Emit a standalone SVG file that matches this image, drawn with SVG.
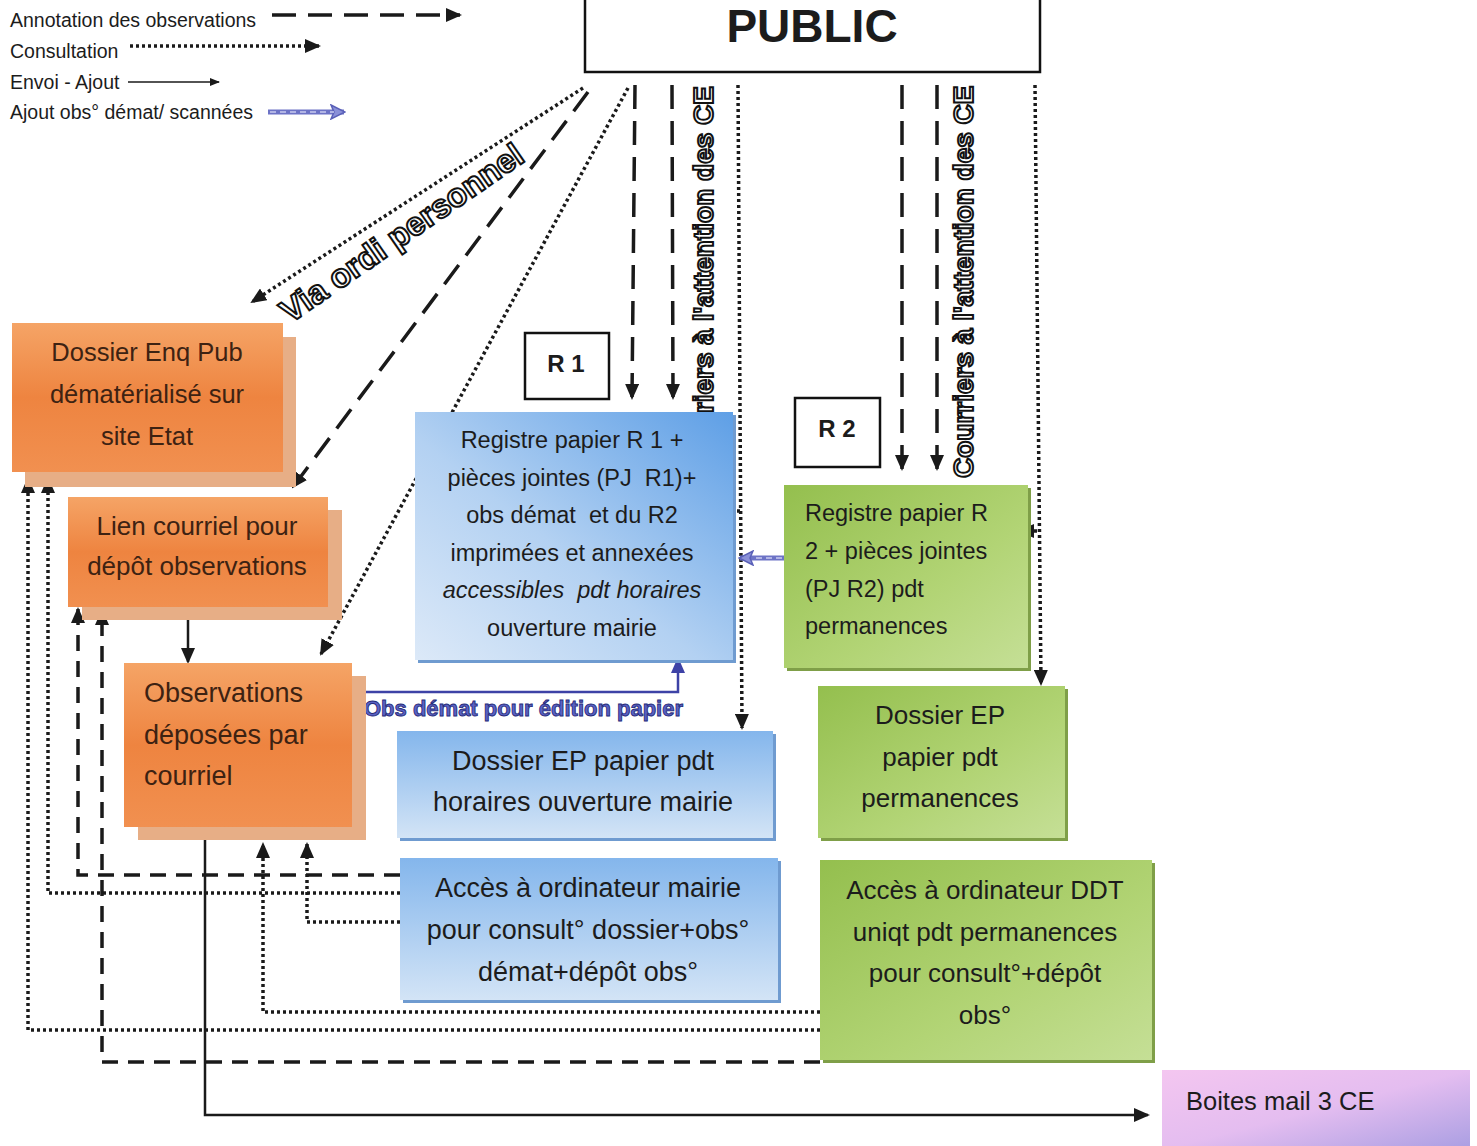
<svg xmlns="http://www.w3.org/2000/svg" width="1477" height="1146" viewBox="0 0 1477 1146">
<defs>
<linearGradient id="gOr" x1="0" y1="0" x2="0" y2="1"><stop offset="0" stop-color="#f5a466"/><stop offset="0.5" stop-color="#ee8440"/><stop offset="1" stop-color="#f19050"/></linearGradient>
<linearGradient id="gBl" x1="1" y1="0" x2="0" y2="1"><stop offset="0" stop-color="#5e9fe6"/><stop offset="0.55" stop-color="#b3d1f2"/><stop offset="1" stop-color="#dce9f8"/></linearGradient>
<linearGradient id="gBl2" x1="0" y1="0" x2="0" y2="1"><stop offset="0" stop-color="#84b6ec"/><stop offset="1" stop-color="#d3e4f6"/></linearGradient>
<linearGradient id="gGr" x1="0" y1="0" x2="1" y2="1"><stop offset="0" stop-color="#94bf4e"/><stop offset="0.6" stop-color="#b2d475"/><stop offset="1" stop-color="#c5df96"/></linearGradient>
<linearGradient id="gPu" x1="0" y1="0" x2="1" y2="1"><stop offset="0" stop-color="#f4c6f0"/><stop offset="0.5" stop-color="#e4bdf0"/><stop offset="1" stop-color="#a99ee2"/></linearGradient>
<marker id="ah" viewBox="0 0 16 14" refX="14" refY="7" markerWidth="16" markerHeight="14" markerUnits="userSpaceOnUse" orient="auto"><path d="M0,0 L16,7 L0,14 z" fill="#1a1a1a"/></marker>
<marker id="ahs" viewBox="0 0 10 8" refX="9" refY="4" markerWidth="10" markerHeight="8" markerUnits="userSpaceOnUse" orient="auto"><path d="M0,0 L10,4 L0,8 z" fill="#1a1a1a"/></marker>
<marker id="ahb" viewBox="0 0 16 14" refX="14" refY="7" markerWidth="16" markerHeight="14" markerUnits="userSpaceOnUse" orient="auto"><path d="M0,0 L16,7 L0,14 z" fill="#3d42a6"/></marker>
<marker id="ahd" viewBox="0 0 16 16" refX="14" refY="8" markerWidth="16" markerHeight="16" markerUnits="userSpaceOnUse" orient="auto"><path d="M1,1 L15,8 L1,15 L4,8 z" fill="#8a90d8" stroke="#5a60b8" stroke-width="1.5"/></marker>
</defs>
<style>
.t{font-family:"Liberation Sans",Arial,sans-serif;fill:#1c1c1c;white-space:pre}
.or{fill:#3d2212}
.dash{fill:none;stroke:#1a1a1a;stroke-width:3.5;stroke-dasharray:24 12}
.dashs{fill:none;stroke:#1a1a1a;stroke-width:3.5;stroke-dasharray:16 10}
.dot{fill:none;stroke:#1a1a1a;stroke-width:3.5;stroke-dasharray:3 3}
.sol{fill:none;stroke:#1a1a1a;stroke-width:2.5}
.dbl{fill:none;stroke:#6d73c6;stroke-width:5}
.dbli{fill:none;stroke:#c9ccf0;stroke-width:1.5;stroke-dasharray:6 4}
.outl{font-family:"Liberation Sans",Arial,sans-serif;font-weight:bold;fill:#fff;stroke:#111;stroke-width:2}
.shO{fill:#e7ae86}
.shB{fill:#6f9bd0}
.shG{fill:#7f9f48}
.lbl{fill:#fff;stroke:#111;stroke-width:2.5}
</style>
<rect width="1477" height="1146" fill="#fff"/>

<g id="legend">
<text class="t" x="10" y="27" font-size="19.5">Annotation des observations</text>
<path class="dash" d="M272 15 H460" marker-end="url(#ah)"/>
<text class="t" x="10" y="58" font-size="19.5">Consultation</text>
<path class="dot" d="M130 46 H319" marker-end="url(#ah)"/>
<text class="t" x="10" y="89" font-size="19.5">Envoi - Ajout</text>
<path d="M128 82 H219" fill="none" stroke="#1a1a1a" stroke-width="1.5" marker-end="url(#ahs)"/>
<text class="t" x="10" y="119" font-size="19.5">Ajout obs° démat/ scannées</text>
<path class="dbl" d="M268 112 H344" marker-end="url(#ahd)"/>
<path class="dbli" d="M270 112 H334"/>
</g>

<g id="connectors">
<path class="dot" d="M583 88 L252 302" marker-end="url(#ah)"/>
<path class="dash" d="M588 92 L293 487" marker-end="url(#ah)"/>
<path class="dot" d="M628 88 L321 654" marker-end="url(#ah)"/>
<path class="dash" d="M635 85 L632 398" marker-end="url(#ah)"/>
<path class="dash" d="M672 85 L673 398" marker-end="url(#ah)"/>
<path class="dot" d="M738 85 L742 728" marker-end="url(#ah)"/>
<path class="dot" d="M740 511 H689" marker-end="url(#ah)"/>
<path class="dash" d="M902 85 V469" marker-end="url(#ah)"/>
<path class="dash" d="M937 85 V469" marker-end="url(#ah)"/>
<path class="dot" d="M1035 85 L1041 684" marker-end="url(#ah)"/>
<path class="dot" d="M1037 531 H1020" marker-end="url(#ah)"/>
<path class="dbl" d="M784 558 H740" marker-end="url(#ahd)"/>
<path class="dbli" d="M782 558 H752"/>
<path d="M366 692 H678 V659" fill="none" stroke="#3d42a6" stroke-width="2.5" marker-end="url(#ahb)"/>
<path class="sol" d="M188 607 V662" marker-end="url(#ah)"/>
<path class="sol" d="M205 832 V1115 H1148" marker-end="url(#ah)"/>
<path class="dot" d="M820 1030 H28 V479" marker-end="url(#ah)"/>
<path class="dot" d="M400 893 H48 V479" marker-end="url(#ah)"/>
<path class="dashs" d="M400 875 H78 V609" marker-end="url(#ah)"/>
<path class="dashs" d="M820 1062 H102 V611" marker-end="url(#ah)"/>
<path class="dot" d="M400 922 H307 V844" marker-end="url(#ah)"/>
<path class="dot" d="M820 1012 H263 V844" marker-end="url(#ah)"/>
<text class="outl" font-size="33" transform="translate(290,324) rotate(-34.7)">Via ordi personnel</text>
<text class="outl" font-size="28" transform="translate(713,86) rotate(-90)" text-anchor="end">Courriers à l'attention des CE</text>
<text class="outl" font-size="28" transform="translate(973,478) rotate(-90)">Courriers à l'attention des CE</text>
<text x="364" y="716" font-size="22" font-weight="bold" font-family="Liberation Sans, Arial, sans-serif" fill="#5a62c4" stroke="#262b7a" stroke-width="0.9">Obs démat pour édition papier</text>
</g>

<g id="public">
<rect x="585" y="-10" width="455" height="82" class="lbl" stroke-width="3"/>
<text class="t" x="812" y="42" font-size="46" font-weight="bold" text-anchor="middle" fill="#222">PUBLIC</text>
</g>

<g id="r1-label">
<rect x="525" y="333" width="84" height="66" class="lbl"/>
<text class="t" x="566" y="372" font-size="24" font-weight="bold" text-anchor="middle">R 1</text>
</g>
<g id="r2-label">
<rect x="795" y="398" width="85" height="69" class="lbl"/>
<text class="t" x="837" y="437" font-size="24" font-weight="bold" text-anchor="middle">R 2</text>
</g>

<g id="dossier-enq-pub">
<rect x="25" y="337" width="271" height="150" class="shO"/>
<rect x="12" y="323" width="271" height="149" fill="url(#gOr)"/>
<text class="t or" font-size="25.5" text-anchor="middle"><tspan x="147" y="361">Dossier Enq Pub</tspan><tspan x="147" y="403">dématérialisé sur</tspan><tspan x="147" y="445">site Etat</tspan></text>
</g>

<g id="lien-courriel">
<rect x="82" y="510" width="260" height="110" class="shO"/>
<rect x="68" y="497" width="260" height="110" fill="url(#gOr)"/>
<text class="t or" font-size="26" text-anchor="middle"><tspan x="197" y="535">Lien courriel pour</tspan><tspan x="197" y="575">dépôt observations</tspan></text>
</g>

<g id="observations-courriel">
<rect x="138" y="676" width="228" height="164" class="shO"/>
<rect x="124" y="663" width="228" height="164" fill="url(#gOr)"/>
<text class="t or" font-size="27"><tspan x="144" y="702">Observations</tspan><tspan x="144" y="744">déposées par</tspan><tspan x="144" y="785">courriel</tspan></text>
</g>

<g id="registre-r1">
<rect x="418" y="415" width="318" height="248" class="shB"/>
<rect x="415" y="412" width="318" height="248" fill="url(#gBl)"/>
<text class="t" font-size="23.5" text-anchor="middle"><tspan x="572" y="448">Registre papier R 1 +</tspan><tspan x="572" y="486">pièces jointes (PJ  R1)+</tspan><tspan x="572" y="523">obs démat  et du R2</tspan><tspan x="572" y="561">imprimées et annexées</tspan><tspan x="572" y="598" font-style="italic">accessibles  pdt horaires</tspan><tspan x="572" y="636">ouverture mairie</tspan></text>
</g>

<g id="registre-r2">
<rect x="787" y="488" width="244" height="183" class="shG"/>
<rect x="784" y="485" width="244" height="183" fill="url(#gGr)"/>
<text class="t" font-size="23.5" fill="#2a1a0e"><tspan x="805" y="521">Registre papier R</tspan><tspan x="805" y="559">2 + pièces jointes</tspan><tspan x="805" y="597">(PJ R2) pdt</tspan><tspan x="805" y="634">permanences</tspan></text>
</g>

<g id="dossier-ep-permanences">
<rect x="821" y="689" width="247" height="152" class="shG"/>
<rect x="818" y="686" width="247" height="152" fill="url(#gGr)"/>
<text class="t" font-size="26" text-anchor="middle"><tspan x="940" y="724">Dossier EP</tspan><tspan x="940" y="766">papier pdt</tspan><tspan x="940" y="807">permanences</tspan></text>
</g>

<g id="dossier-ep-mairie">
<rect x="400" y="734" width="376" height="107" class="shB"/>
<rect x="397" y="731" width="376" height="107" fill="url(#gBl2)"/>
<text class="t" font-size="27" text-anchor="middle"><tspan x="583" y="770">Dossier EP papier pdt</tspan><tspan x="583" y="811">horaires ouverture mairie</tspan></text>
</g>

<g id="acces-mairie">
<rect x="403" y="861" width="378" height="142" class="shB"/>
<rect x="400" y="858" width="378" height="142" fill="url(#gBl2)"/>
<text class="t" font-size="27" text-anchor="middle"><tspan x="588" y="897">Accès à ordinateur mairie</tspan><tspan x="588" y="939">pour consult° dossier+obs°</tspan><tspan x="588" y="981">démat+dépôt obs°</tspan></text>
</g>

<g id="acces-ddt">
<rect x="823" y="863" width="332" height="200" class="shG"/>
<rect x="820" y="860" width="332" height="200" fill="url(#gGr)"/>
<text class="t" font-size="26" text-anchor="middle"><tspan x="985" y="899">Accès à ordinateur DDT</tspan><tspan x="985" y="941">uniqt pdt permanences</tspan><tspan x="985" y="982">pour consult°+dépôt</tspan><tspan x="985" y="1024">obs°</tspan></text>
</g>

<g id="boites-mail">
<rect x="1162" y="1070" width="308" height="80" fill="url(#gPu)"/>
<text class="t" x="1186" y="1110" font-size="25.5">Boites mail 3 CE</text>
</g>
</svg>
